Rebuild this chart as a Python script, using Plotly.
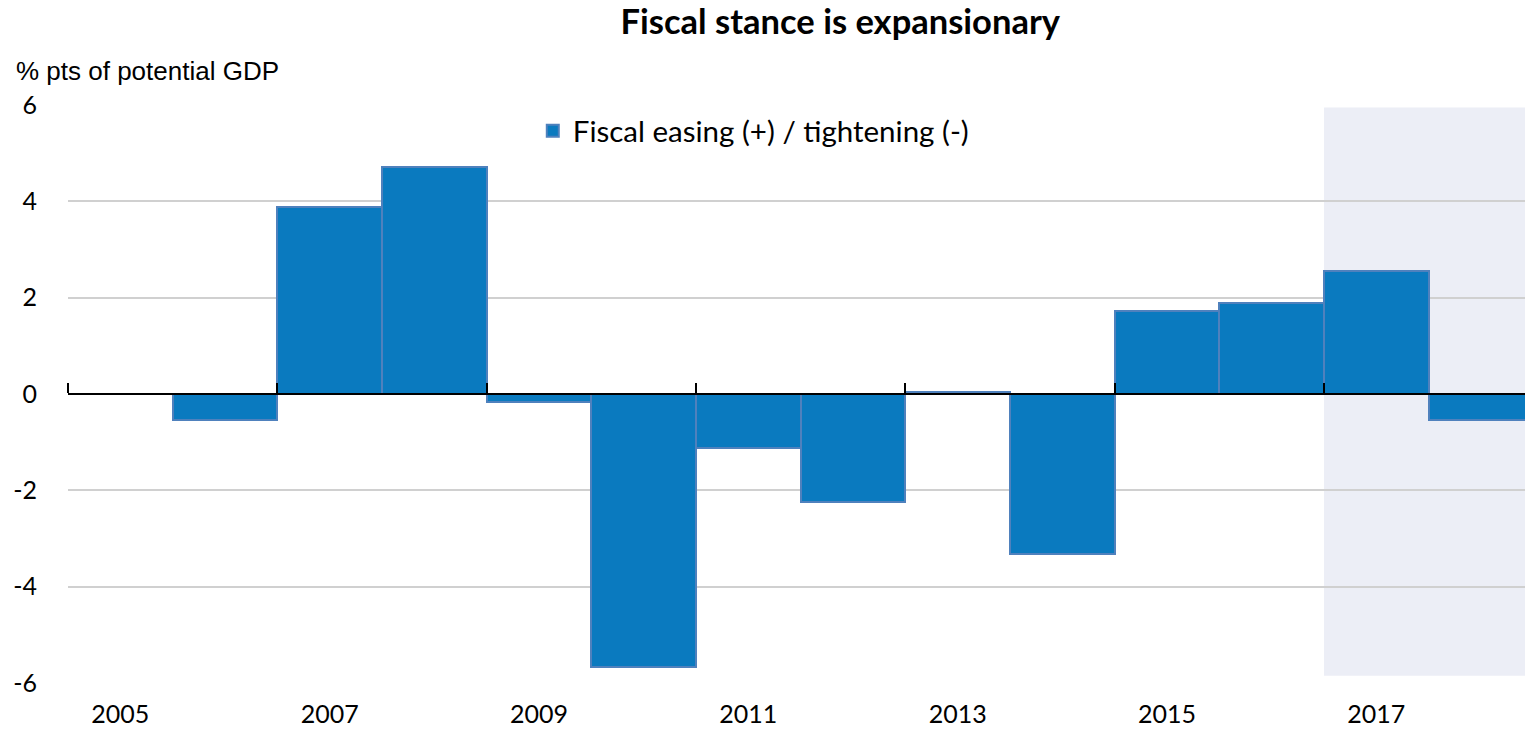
import plotly.graph_objects as go

# Fiscal stance, % pts of potential GDP
years = list(range(2005, 2019))
fiscal_stance = [None, -0.55, 3.88, 4.71, -0.17, -5.67, -1.12, -2.24, 0.04, -3.32, 1.72, 1.89, 2.55, -0.55]
label_years = [2005, 2007, 2009, 2011, 2013, 2015, 2017]
y_ticks = [-6, -4, -2, 0, 2, 4, 6]

font_main = "Lato, Carlito, Calibri, sans-serif"

fig = go.Figure()

fig.add_trace(go.Bar(
    x=years,
    y=fiscal_stance,
    width=1,
    name="Fiscal easing (+) / tightening (-)",
    marker=dict(color="#0a7abf", line=dict(color="#4f81bd", width=2)),
    showlegend=True,
))

# dummy trace on the overlay axis so the zero line axis is drawn
fig.add_trace(go.Scatter(x=[2004.5], y=[0], xaxis="x2", mode="markers",
                         marker=dict(opacity=0), showlegend=False, hoverinfo="skip"))

# forecast shading
fig.add_shape(type="rect", xref="x", yref="y", x0=2016.5, x1=2019, y0=-5.85, y1=5.95,
              fillcolor="#eceef6", line=dict(width=0), layer="below")

fig.update_layout(
    width=1525, height=730,
    margin=dict(l=68, r=0, t=105, b=47),
    paper_bgcolor="white", plot_bgcolor="white",
    title=dict(text="<b>Fiscal stance is expansionary</b>", x=0.551, xanchor="center",
               y=0.97, yanchor="middle", font=dict(family=font_main, size=34.5, color="black")),
    font=dict(family=font_main, size=25, color="black"),
    bargap=0,
    legend=dict(x=0.319, y=1.0, xanchor="left", yanchor="top", orientation="h",
                bgcolor="rgba(0,0,0,0)", font=dict(size=29.5)),
    xaxis=dict(range=[2004.5, 2018.42], tickvals=label_years, ticktext=[str(y) for y in label_years],
               showgrid=False, zeroline=False, showline=False, ticks="", tickfont=dict(size=25),
               ticklabelstandoff=14),
    xaxis2=dict(overlaying="x", anchor="free", position=0.5, side="top", range=[2004.5, 2018.42],
                showline=True, linecolor="black", linewidth=2, showgrid=False, zeroline=False,
                tickvals=[2004.5 + 2 * i for i in range(8)], showticklabels=False,
                ticks="outside", ticklen=10, tickwidth=2, tickcolor="black"),
    yaxis=dict(range=[-6, 6], tickvals=y_ticks, ticktext=[str(v) for v in y_ticks],
               showgrid=True, gridcolor="#d0d0d0", gridwidth=1.5,
               zeroline=False, showline=False, ticks="", ticklabelstandoff=30,
               tickfont=dict(size=25)),
    annotations=[dict(text="% pts of potential GDP", xref="paper", yref="paper", x=-0.037, y=1.0,
                      xanchor="left", yanchor="bottom", yshift=17, showarrow=False,
                      font=dict(family="Liberation Sans Narrow, Arial Narrow, Liberation Sans, Arial, sans-serif",
                                size=26))],
)

fig.write_html("out.html", config={"displayModeBar": False},
               post_script="document.body.style.margin='0';")
